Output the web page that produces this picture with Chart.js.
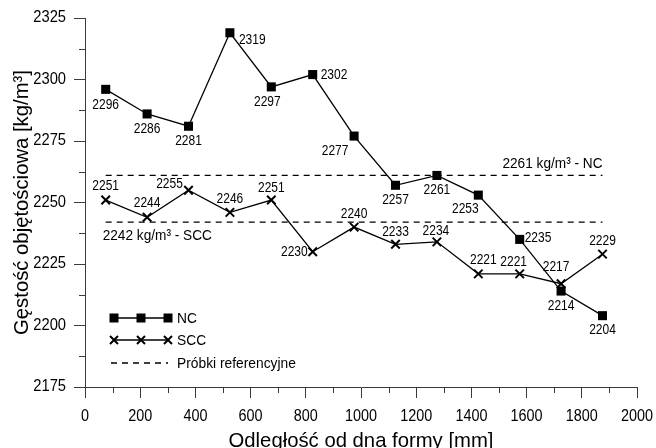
<!DOCTYPE html>
<html>
<head>
<meta charset="utf-8">
<script src="https://cdn.jsdelivr.net/npm/chart.js@4.4.1/dist/chart.umd.min.js"></script>
<style>
  html, body { margin: 0; padding: 0; background: #fff; }
  #wrap { width: 656px; height: 448px; position: relative; }
</style>
</head>
<body>
<div id="wrap"><canvas id="c" width="656" height="448"></canvas></div>
<script>
// Distance from the bottom of the mould [mm]
const positions = [75, 225, 375, 525, 675, 825, 975, 1125, 1275, 1425, 1575, 1725, 1875];
// Bulk density [kg/m3]
const ncValues  = [2296, 2286, 2281, 2319, 2297, 2302, 2277, 2257, 2261, 2253, 2235, 2214, 2204];
const sccValues = [2251, 2244, 2255, 2246, 2251, 2230, 2240, 2233, 2234, 2221, 2221, 2217, 2229];
// Reference specimens
const refNC  = 2261;
const refSCC = 2242;
const refRange = [75, 1875];
const seriesNames = ['NC', 'SCC', 'Próbki referencyjne'];

// Label offsets (px) relative to each point: [dx, dy, align]
const ncLabelPos = [
  [0, 16, 'center'], [0, 15, 'center'], [0, 15, 'center'], [9, 7, 'left'],
  [-4, 15, 'center'], [8, 0, 'left'], [-19, 15, 'center'], [0, 15, 'center'],
  [0, 14, 'center'], [-13, 14, 'center'], [5, -2, 'left'], [0, 15, 'center'],
  [0, 14, 'center']
];
const sccLabelPos = [
  [0, -14, 'center'], [0, -14, 'center'], [-19, -6, 'center'], [0, -13, 'center'],
  [0, -12, 'center'], [-5, 0, 'right'], [0, -13, 'center'], [0, -12, 'center'],
  [-1, -11, 'center'], [5, -14, 'center'], [-6, -12, 'center'], [-5, -17, 'center'],
  [0, -13, 'center']
];

const sans = '"Liberation Sans", Arial, sans-serif';
const axisColor = '#3a3a3a';

const pts = (ys) => positions.map((x, i) => ({ x, y: ys[i] }));
const flat = (v) => refRange.map(x => ({ x, y: v }));

// Condensed text: horizontally squeezed sans-serif
function narrowText(ctx, text, x, y, size, align, squeeze) {
  ctx.save();
  ctx.font = size + 'px ' + sans;
  ctx.textAlign = align;
  ctx.textBaseline = 'middle';
  ctx.translate(x, y);
  ctx.scale(squeeze, 1);
  ctx.fillText(text, 0, 0);
  ctx.restore();
}

// Tick labels, minor ticks, axis titles, point labels, reference-line labels and the legend
const decorations = {
  id: 'decorations',
  afterDraw(chart) {
    const ctx = chart.ctx;
    const xs = chart.scales.x, ys = chart.scales.y;
    const area = chart.chartArea;
    ctx.save();
    ctx.fillStyle = '#000';

    // tick labels
    xs.ticks.forEach(t => {
      narrowText(ctx, String(t.value), xs.getPixelForValue(t.value), area.bottom + 30, 16, 'center', 0.9);
    });
    ys.ticks.forEach(t => {
      narrowText(ctx, String(t.value), area.left - 19, ys.getPixelForValue(t.value), 16, 'right', 0.92);
    });

    // minor ticks
    ctx.strokeStyle = axisColor;
    ctx.lineWidth = 1;
    ctx.beginPath();
    for (let v = 100; v < 2000; v += 200) {
      const px = Math.round(xs.getPixelForValue(v)) + 0.5;
      ctx.moveTo(px, area.bottom); ctx.lineTo(px, area.bottom + 6);
    }
    for (let v = 2187.5; v < 2325; v += 25) {
      const py = Math.round(ys.getPixelForValue(v)) + 0.5;
      ctx.moveTo(area.left, py); ctx.lineTo(area.left - 6, py);
    }
    ctx.stroke();

    // axis titles
    ctx.font = '20.3px ' + sans;
    ctx.textAlign = 'center';
    ctx.textBaseline = 'alphabetic';
    ctx.fillText('Odległość od dna formy [mm]', (area.left + area.right) / 2, 447);
    ctx.save();
    ctx.translate(27.5, (area.top + area.bottom) / 2);
    ctx.rotate(-Math.PI / 2);
    ctx.fillText('Gęstość objętościowa [kg/m³]', 0, 0);
    ctx.restore();

    // point labels
    const label = (dsIndex, values, offs) => {
      const meta = chart.getDatasetMeta(dsIndex);
      meta.data.forEach((el, i) => {
        const [dx, dy, al] = offs[i];
        narrowText(ctx, String(values[i]), el.x + dx, el.y + dy, 15, al, 0.8);
      });
    };
    label(0, ncValues, ncLabelPos);
    label(1, sccValues, sccLabelPos);

    // reference-line labels
    const rx = xs.getPixelForValue(refRange[1]);
    const ryNC = ys.getPixelForValue(refNC);
    narrowText(ctx, refNC + ' kg/m³ - NC', rx, ryNC - 12, 15.5, 'right', 0.88);
    const lx = xs.getPixelForValue(refRange[0]);
    const rySCC = ys.getPixelForValue(refSCC);
    narrowText(ctx, refSCC + ' kg/m³ - SCC', lx - 3, rySCC + 14, 15.5, 'left', 0.88);

    // legend
    const lgX0 = area.left + 29, lgX1 = area.left + 83, lgText = area.left + 92;
    const rows = [area.bottom - 69, area.bottom - 47, area.bottom - 24];
    ctx.strokeStyle = '#000';
    ctx.lineWidth = 1.3;
    // NC
    ctx.beginPath(); ctx.moveTo(lgX0, rows[0]); ctx.lineTo(lgX1, rows[0]); ctx.stroke();
    [lgX0, (lgX0 + lgX1) / 2, lgX1].forEach(x => ctx.fillRect(x - 4.5, rows[0] - 4.5, 9, 9));
    // SCC
    ctx.beginPath(); ctx.moveTo(lgX0, rows[1]); ctx.lineTo(lgX1, rows[1]); ctx.stroke();
    ctx.lineWidth = 2;
    [lgX0, (lgX0 + lgX1) / 2, lgX1].forEach(x => {
      ctx.beginPath();
      ctx.moveTo(x - 4, rows[1] - 4); ctx.lineTo(x + 4, rows[1] + 4);
      ctx.moveTo(x + 4, rows[1] - 4); ctx.lineTo(x - 4, rows[1] + 4);
      ctx.stroke();
    });
    // reference
    ctx.lineWidth = 1.3;
    ctx.setLineDash([6, 5]);
    ctx.beginPath(); ctx.moveTo(lgX0 - 3, rows[2]); ctx.lineTo(lgX1, rows[2]); ctx.stroke();
    ctx.setLineDash([]);
    rows.forEach((y, i) => narrowText(ctx, seriesNames[i], lgText, y + 1, 15.5, 'left', 0.89));
    ctx.restore();
  }
};

new Chart(document.getElementById('c'), {
  type: 'line',
  data: {
    datasets: [
      {
        label: seriesNames[0], data: pts(ncValues),
        borderColor: '#000', borderWidth: 1.3, backgroundColor: '#000',
        pointStyle: 'rect', pointRadius: 6.4, pointBorderWidth: 0,
        pointBackgroundColor: '#000', tension: 0
      },
      {
        label: seriesNames[1], data: pts(sccValues),
        borderColor: '#000', borderWidth: 1.3,
        pointStyle: 'crossRot', pointRadius: 6, pointBorderWidth: 2,
        pointBorderColor: '#000', tension: 0
      },
      {
        label: seriesNames[2], data: flat(refNC),
        borderColor: '#000', borderWidth: 1.3, borderDash: [6, 5], pointRadius: 0
      },
      {
        label: seriesNames[2], data: flat(refSCC),
        borderColor: '#000', borderWidth: 1.3, borderDash: [6, 5], pointRadius: 0
      }
    ]
  },
  options: {
    responsive: false,
    animation: false,
    devicePixelRatio: 1,
    layout: { padding: { top: 18, right: 19, left: 0, bottom: 0 } },
    plugins: { legend: { display: false }, tooltip: { enabled: false } },
    scales: {
      x: {
        type: 'linear', min: 0, max: 2000,
        afterFit: (s) => { s.height = 61; },
        ticks: { stepSize: 200, display: false },
        grid: { drawOnChartArea: false, drawTicks: true, tickLength: 11, color: axisColor, tickColor: axisColor },
        border: { display: true, color: axisColor, width: 1 }
      },
      y: {
        type: 'linear', min: 2175, max: 2325,
        afterFit: (s) => { s.width = 85; },
        ticks: { stepSize: 25, display: false },
        grid: { drawOnChartArea: false, drawTicks: true, tickLength: 11, color: axisColor, tickColor: axisColor },
        border: { display: true, color: axisColor, width: 1 }
      }
    }
  },
  plugins: [decorations]
});
</script>
</body>
</html>
